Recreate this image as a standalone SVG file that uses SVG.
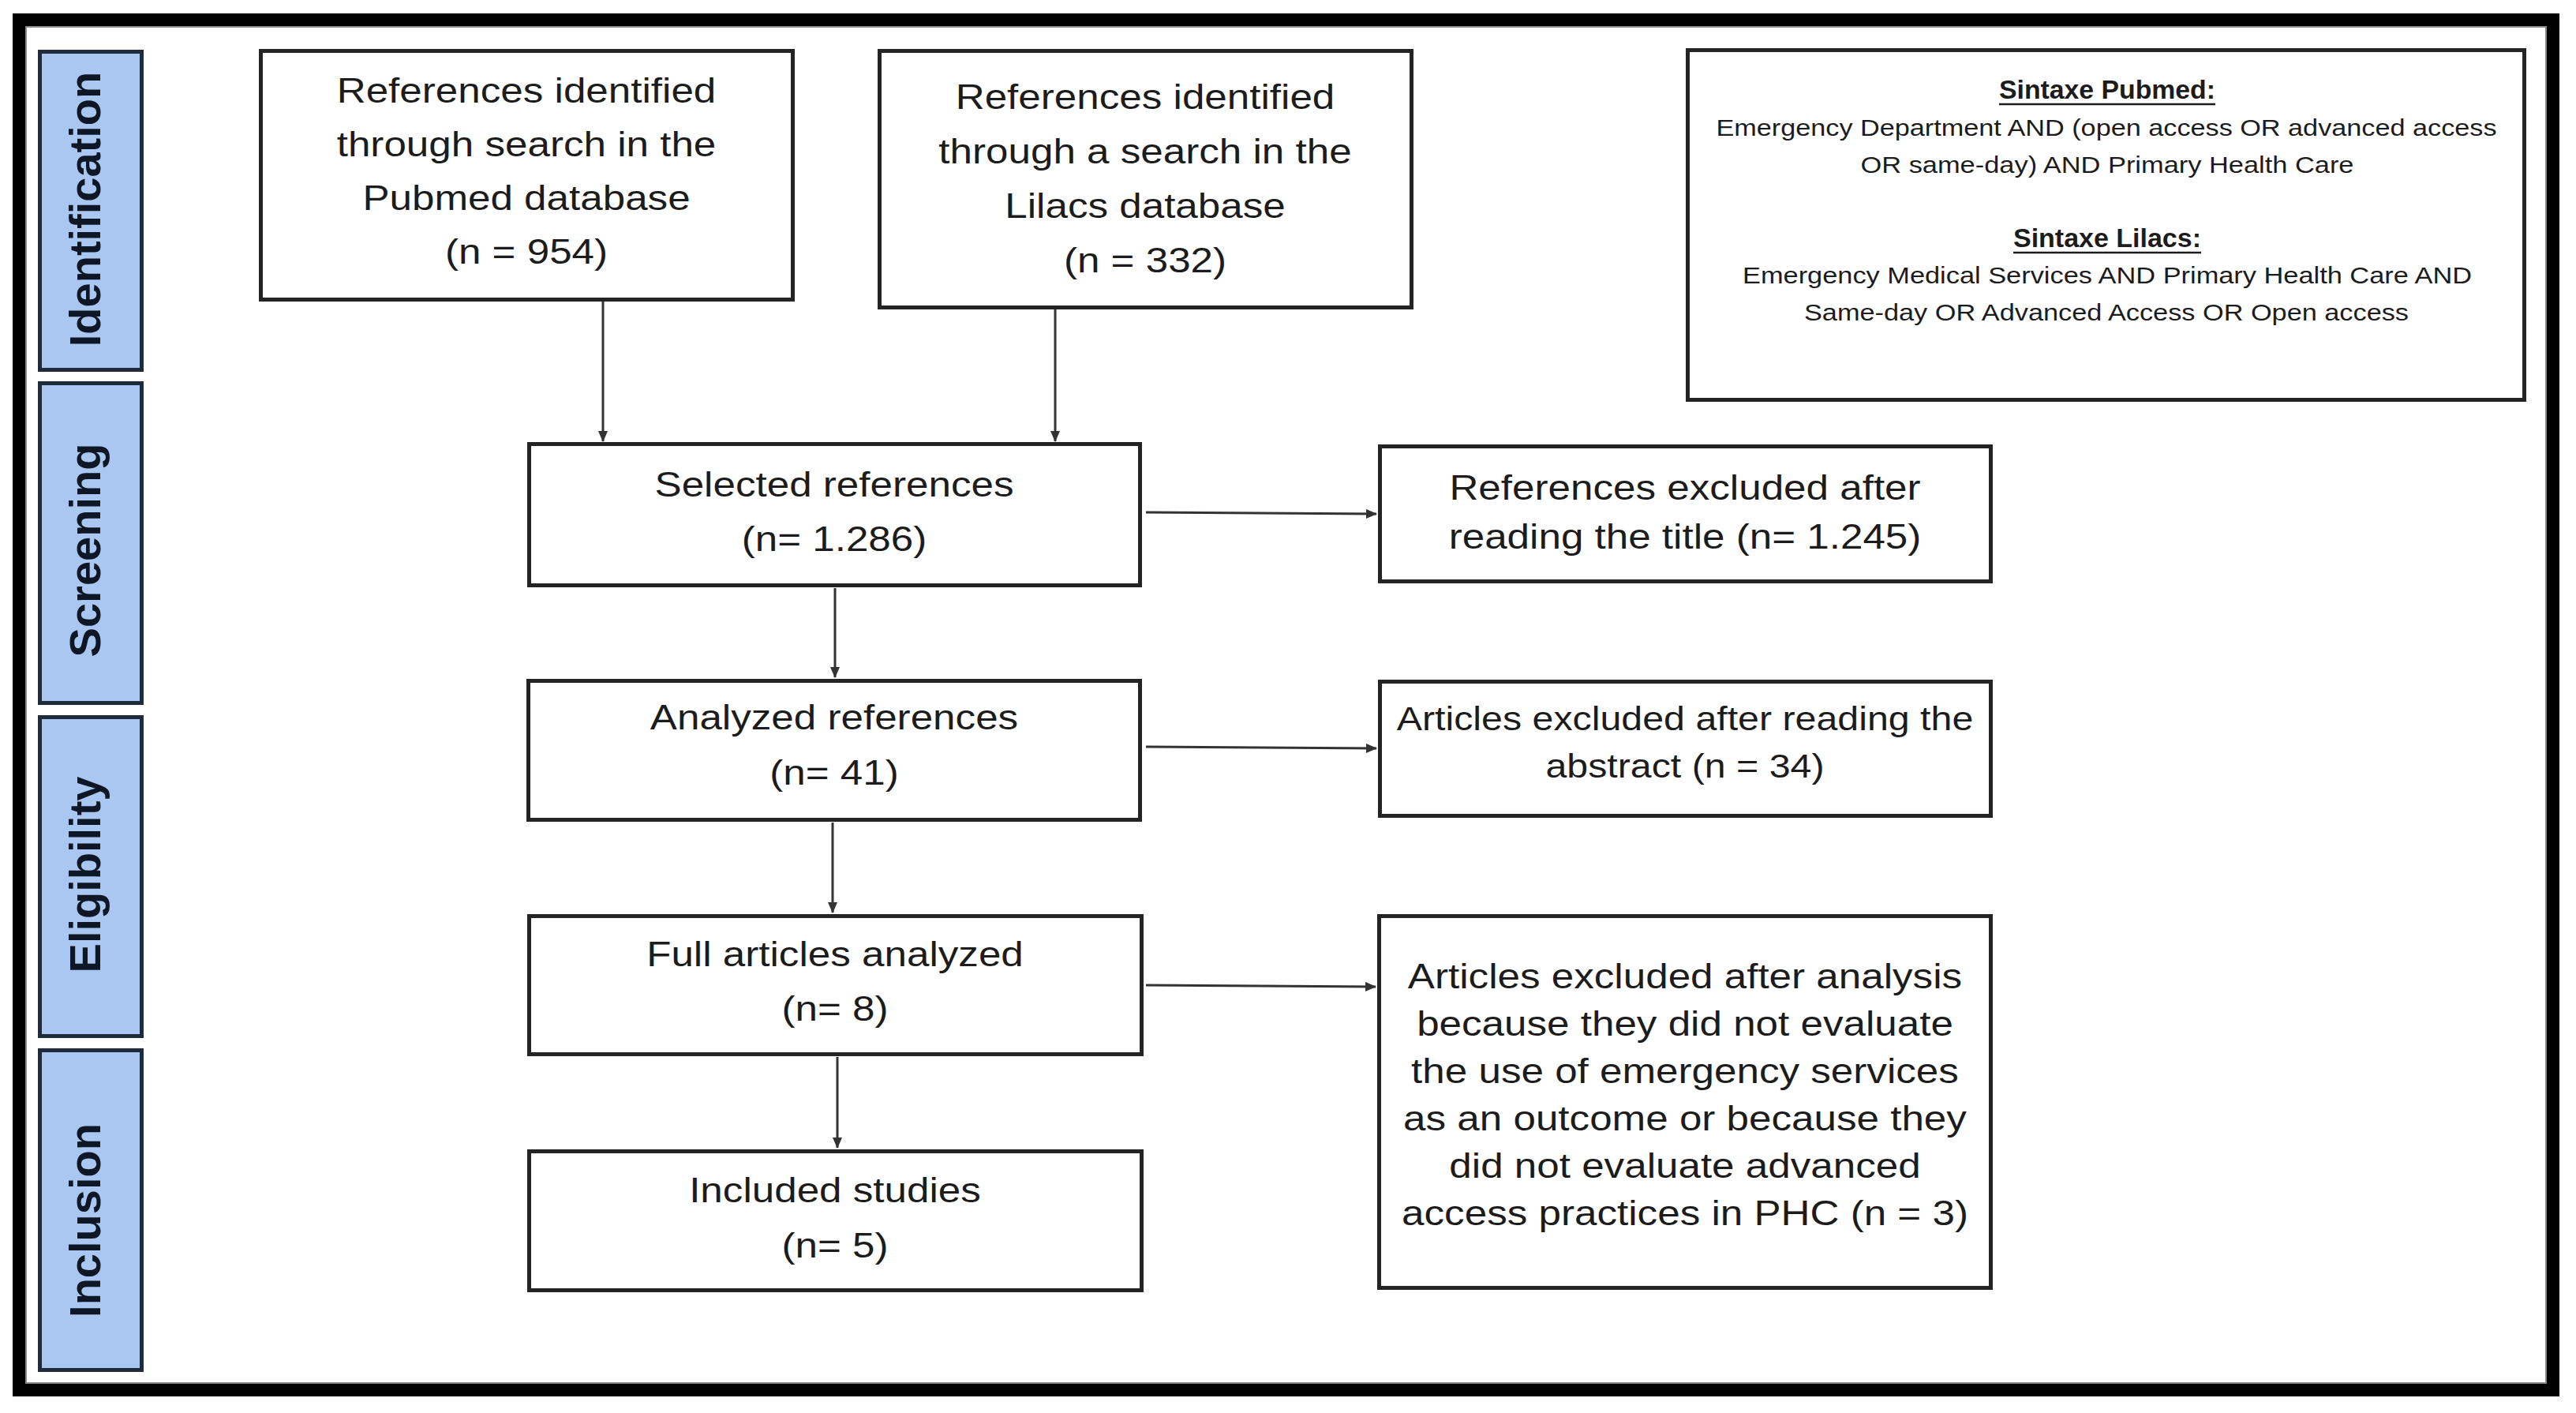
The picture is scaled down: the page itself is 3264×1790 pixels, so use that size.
<svg xmlns="http://www.w3.org/2000/svg" width="3264" height="1790" viewBox="0 0 3264 1790">
<defs>
<style>
.box{fill:#ffffff;stroke:#242424;stroke-width:5}
.stage{fill:#a9c7f0;stroke:#1f2b3a;stroke-width:5}
.st{font-family:"Liberation Sans",Arial,sans-serif;font-weight:bold;font-size:56px;fill:#0d1726;text-anchor:middle}
.t{font-family:"Liberation Sans",Arial,sans-serif;font-size:45px;fill:#1c1c1c;text-anchor:middle}
.ts{font-family:"Liberation Sans",Arial,sans-serif;font-size:42.5px;fill:#1c1c1c;text-anchor:middle}
.sx{font-family:"Liberation Sans",Arial,sans-serif;font-size:29px;fill:#1c1c1c;text-anchor:middle}
.sh{font-family:"Liberation Sans",Arial,sans-serif;font-size:33px;font-weight:bold;fill:#1c1c1c;text-anchor:middle}
.ul{stroke:#1c1c1c;stroke-width:2.5}
.c{stroke:#333333;stroke-width:3;fill:none;marker-end:url(#ah)}
</style>
<marker id="ah" markerUnits="userSpaceOnUse" markerWidth="14" markerHeight="12" viewBox="0 0 14 12" refX="13" refY="6" orient="auto">
<path d="M0,0 L14,6 L0,12 z" fill="#333333"/>
</marker>
</defs>
<rect x="0" y="0" width="3264" height="1790" fill="#ffffff"/>
<rect x="24" y="25" width="3211" height="1736" fill="none" stroke="#000000" stroke-width="16"/>
<rect x="33" y="34" width="3193" height="1718" fill="none" stroke="#8a8a8a" stroke-width="2"/>

<g id="stage-identification">
<rect class="stage" x="50.5" y="65.5" width="129" height="403"/>
<text class="st" transform="translate(127 265) rotate(-90)">Identification</text>
</g>
<g id="stage-screening">
<rect class="stage" x="50.5" y="485.5" width="129" height="405"/>
<text class="st" transform="translate(127 697) rotate(-90)">Screening</text>
</g>
<g id="stage-eligibility">
<rect class="stage" x="50.5" y="908.5" width="129" height="404"/>
<text class="st" transform="translate(127 1108) rotate(-90)">Eligibility</text>
</g>
<g id="stage-inclusion">
<rect class="stage" x="50.5" y="1330.5" width="129" height="405"/>
<text class="st" transform="translate(127 1546) rotate(-90)">Inclusion</text>
</g>

<g id="connectors">
<line class="c" x1="764" y1="362" x2="764" y2="559"/>
<line class="c" x1="1337" y1="362" x2="1337" y2="559"/>
<line class="c" x1="1058" y1="745" x2="1058" y2="858"/>
<line class="c" x1="1055" y1="1042" x2="1055" y2="1156"/>
<line class="c" x1="1061" y1="1339" x2="1061" y2="1454"/>
<line class="c" x1="1452" y1="649" x2="1744" y2="651"/>
<line class="c" x1="1452" y1="946" x2="1744" y2="948"/>
<line class="c" x1="1452" y1="1248" x2="1743" y2="1250"/>
</g>

<g id="node-pubmed">
<rect class="box" x="330.5" y="64.5" width="674" height="315"/>
<text class="t" transform="translate(667 0) scale(1.137 1)" x="0" y="130">References identified</text>
<text class="t" transform="translate(667 0) scale(1.137 1)" x="0" y="198">through search in the</text>
<text class="t" transform="translate(667 0) scale(1.137 1)" x="0" y="266">Pubmed database</text>
<text class="t" transform="translate(667 0) scale(1.137 1)" x="0" y="334">(n = 954)</text>
</g>

<g id="node-lilacs">
<rect class="box" x="1114.5" y="64.5" width="674" height="325"/>
<text class="t" transform="translate(1451 0) scale(1.137 1)" x="0" y="138">References identified</text>
<text class="t" transform="translate(1451 0) scale(1.137 1)" x="0" y="207">through a search in the</text>
<text class="t" transform="translate(1451 0) scale(1.137 1)" x="0" y="276">Lilacs database</text>
<text class="t" transform="translate(1451 0) scale(1.137 1)" x="0" y="345">(n = 332)</text>
</g>

<g id="node-syntax">
<rect class="box" x="2138.5" y="63.5" width="1060" height="443"/>
<text class="sh" x="2670" y="125" textLength="274" lengthAdjust="spacingAndGlyphs">Sintaxe Pubmed:</text>
<line class="ul" x1="2533" y1="132" x2="2807" y2="132"/>
<text class="sx" x="2669" y="172" textLength="989" lengthAdjust="spacingAndGlyphs">Emergency Department AND (open access OR advanced access</text>
<text class="sx" x="2670" y="219" textLength="625" lengthAdjust="spacingAndGlyphs">OR same-day) AND Primary Health Care</text>
<text class="sh" x="2670" y="313" textLength="238" lengthAdjust="spacingAndGlyphs">Sintaxe Lilacs:</text>
<line class="ul" x1="2551" y1="320" x2="2789" y2="320"/>
<text class="sx" x="2670" y="359" textLength="924" lengthAdjust="spacingAndGlyphs">Emergency Medical Services AND Primary Health Care AND</text>
<text class="sx" x="2669" y="406" textLength="766" lengthAdjust="spacingAndGlyphs">Same-day OR Advanced Access OR Open access</text>
</g>

<g id="node-selected">
<rect class="box" x="670.5" y="562.5" width="774" height="179"/>
<text class="t" transform="translate(1057 0) scale(1.137 1)" x="0" y="629">Selected references</text>
<text class="t" transform="translate(1057 0) scale(1.137 1)" x="0" y="698">(n= 1.286)</text>
</g>

<g id="node-excluded-title">
<rect class="box" x="1748.5" y="565.5" width="774" height="171"/>
<text class="t" transform="translate(2135 0) scale(1.137 1)" x="0" y="633">References excluded after</text>
<text class="t" transform="translate(2135 0) scale(1.137 1)" x="0" y="695">reading the title (n= 1.245)</text>
</g>

<g id="node-analyzed">
<rect class="box" x="669.5" y="862.5" width="775" height="176"/>
<text class="t" transform="translate(1057 0) scale(1.137 1)" x="0" y="924">Analyzed references</text>
<text class="t" transform="translate(1057 0) scale(1.137 1)" x="0" y="994">(n= 41)</text>
</g>

<g id="node-excluded-abstract">
<rect class="box" x="1748.5" y="863.5" width="774" height="170"/>
<text class="ts" transform="translate(2135 0) scale(1.137 1)" x="0" y="925">Articles excluded after reading the</text>
<text class="ts" transform="translate(2135 0) scale(1.137 1)" x="0" y="985">abstract (n = 34)</text>
</g>

<g id="node-full">
<rect class="box" x="670.5" y="1160.5" width="776" height="175"/>
<text class="t" transform="translate(1058 0) scale(1.137 1)" x="0" y="1224">Full articles analyzed</text>
<text class="t" transform="translate(1058 0) scale(1.137 1)" x="0" y="1293">(n= 8)</text>
</g>

<g id="node-excluded-analysis">
<rect class="box" x="1747.5" y="1160.5" width="775" height="471"/>
<text class="t" transform="translate(2135 0) scale(1.137 1)" x="0" y="1252">Articles excluded after analysis</text>
<text class="t" transform="translate(2135 0) scale(1.137 1)" x="0" y="1312">because they did not evaluate</text>
<text class="t" transform="translate(2135 0) scale(1.137 1)" x="0" y="1372">the use of emergency services</text>
<text class="t" transform="translate(2135 0) scale(1.137 1)" x="0" y="1432">as an outcome or because they</text>
<text class="t" transform="translate(2135 0) scale(1.137 1)" x="0" y="1492">did not evaluate advanced</text>
<text class="t" transform="translate(2135 0) scale(1.137 1)" x="0" y="1552">access practices in PHC (n = 3)</text>
</g>

<g id="node-included">
<rect class="box" x="670.5" y="1458.5" width="776" height="176"/>
<text class="t" transform="translate(1058 0) scale(1.137 1)" x="0" y="1523">Included studies</text>
<text class="t" transform="translate(1058 0) scale(1.137 1)" x="0" y="1593">(n= 5)</text>
</g>
</svg>
